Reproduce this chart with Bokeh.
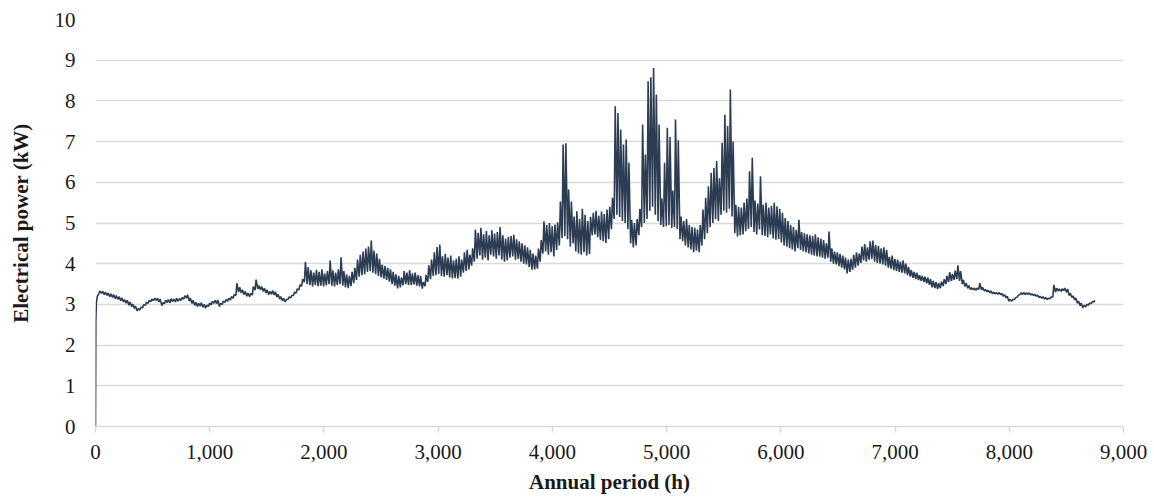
from bokeh.plotting import figure
from bokeh.models import Range1d, NumeralTickFormatter, FixedTicker, ColumnDataSource
from bokeh.embed import file_html
from bokeh.resources import INLINE

# Start-up hours of the year (h) and power (kW)
ramp_h = [0, 3, 8, 16]
ramp_kw = [0.0, 2.6, 3.05, 3.2]

# Daily night-time low and afternoon high of the electrical power (kW), month by month
jan_lo = [3.26, 3.27, 3.24, 3.22, 3.19, 3.17, 3.14, 3.12, 3.09, 3.06, 3.03, 2.98, 2.94, 2.90, 2.84,
          2.86, 2.92, 2.98, 3.03, 3.07, 3.09, 3.10, 3.06, 2.97, 3.02, 3.05, 3.04, 3.07, 3.06, 3.08]
jan_hi = [3.33, 3.32, 3.30, 3.28, 3.26, 3.24, 3.22, 3.19, 3.16, 3.12, 3.10, 3.06, 3.01, 2.96, 2.90,
          2.93, 2.99, 3.05, 3.10, 3.13, 3.15, 3.15, 3.13, 3.04, 3.10, 3.12, 3.14, 3.13, 3.15, 3.14]
feb_lo = [3.10, 3.13, 3.16, 3.08, 3.02, 2.98, 2.95, 2.96, 2.93, 2.91, 2.95, 2.99, 3.03, 3.02,
          2.95, 3.00, 3.05, 3.08, 3.11, 3.15, 3.22, 3.30, 3.28, 3.24, 3.20, 3.19, 3.23, 3.35]
feb_hi = [3.17, 3.21, 3.24, 3.16, 3.10, 3.05, 3.03, 3.04, 3.00, 2.98, 3.03, 3.07, 3.10, 3.11,
          3.02, 3.08, 3.12, 3.15, 3.19, 3.24, 3.52, 3.42, 3.36, 3.32, 3.28, 3.27, 3.44, 3.61]
mar_lo = [3.38, 3.36, 3.32, 3.28, 3.24, 3.25, 3.23, 3.18, 3.13, 3.09, 3.06, 3.12, 3.16, 3.22, 3.28,
          3.36, 3.45, 3.55, 3.50, 3.47, 3.44, 3.48, 3.45, 3.46, 3.44, 3.47, 3.50, 3.46, 3.44, 3.48, 3.50]
mar_hi = [3.46, 3.44, 3.40, 3.36, 3.32, 3.34, 3.31, 3.25, 3.19, 3.15, 3.12, 3.18, 3.22, 3.30, 3.38,
          3.48, 3.62, 4.04, 3.92, 3.84, 3.78, 3.85, 3.80, 3.86, 3.76, 3.82, 4.08, 3.84, 3.78, 3.86, 4.16]
apr_lo = [3.46, 3.42, 3.40, 3.45, 3.52, 3.60, 3.68, 3.72, 3.74, 3.80, 3.82, 3.78, 3.74, 3.70, 3.66,
          3.63, 3.60, 3.56, 3.50, 3.46, 3.39, 3.42, 3.47, 3.50, 3.48, 3.47, 3.49, 3.46, 3.44, 3.39]
apr_hi = [3.82, 3.74, 3.70, 3.80, 3.90, 4.10, 4.22, 4.30, 4.37, 4.42, 4.57, 4.32, 4.25, 4.12, 3.98,
          3.94, 3.90, 3.86, 3.80, 3.74, 3.70, 3.66, 3.82, 3.78, 3.84, 3.76, 3.78, 3.72, 3.70, 3.55]
may_lo = [3.45, 3.55, 3.62, 3.70, 3.72, 3.75, 3.70, 3.68, 3.72, 3.66, 3.64, 3.65, 3.64, 3.68, 3.78,
          3.82, 3.86, 3.95, 4.05, 4.12, 4.20, 4.10, 4.15, 4.08, 4.22, 4.18, 4.12, 4.20, 4.10, 4.05, 4.08]
may_hi = [3.72, 3.96, 4.10, 4.28, 4.41, 4.47, 4.18, 4.24, 4.15, 4.20, 4.08, 4.12, 4.18, 4.10, 4.28,
          4.34, 4.22, 4.38, 4.84, 4.76, 4.88, 4.72, 4.80, 4.70, 4.82, 4.74, 4.78, 4.90, 4.70, 4.62, 4.66]
jun_lo = [4.15, 4.18, 4.10, 4.12, 4.05, 4.00, 3.98, 3.92, 3.85, 3.86, 3.88, 4.05, 4.25, 4.30, 4.22,
          4.28, 4.18, 4.34, 4.45, 4.63, 4.68, 4.60, 4.42, 4.50, 4.30, 4.25, 4.22, 4.28, 4.20, 4.24]
jun_hi = [4.68, 4.71, 4.60, 4.55, 4.50, 4.45, 4.40, 4.34, 4.25, 4.20, 4.37, 4.58, 5.04, 4.95, 5.00,
          4.92, 4.96, 5.02, 5.53, 6.93, 6.96, 5.82, 5.53, 5.16, 5.29, 5.10, 5.35, 5.20, 5.05, 5.15]
jul_lo = [4.70, 4.72, 4.65, 4.58, 4.55, 4.51, 4.60, 4.85, 5.10, 5.20, 5.15, 5.05, 5.00, 4.85, 4.50,
          4.40, 4.45, 4.70, 4.90, 5.00, 5.10, 5.30, 5.40, 5.20, 5.05, 4.95, 4.90, 4.92, 4.95, 4.88, 4.90]
jul_hi = [5.25, 5.30, 5.18, 5.28, 5.22, 5.33, 5.40, 5.62, 7.87, 7.70, 7.30, 6.93, 7.05, 6.48, 5.08,
          5.00, 5.10, 5.35, 7.42, 6.68, 8.48, 8.58, 8.81, 8.16, 7.42, 5.60, 6.48, 7.34, 7.11, 5.80, 7.54]
aug_lo = [4.85, 4.60, 4.55, 4.45, 4.40, 4.35, 4.28, 4.32, 4.28, 4.45, 4.60, 4.75, 4.90, 5.00, 5.10,
          5.05, 5.20, 5.30, 5.25, 5.35, 5.16, 4.75, 4.67, 4.70, 4.72, 4.80, 4.85, 4.90, 4.78, 4.72, 4.84]
aug_hi = [7.03, 5.16, 5.05, 5.10, 4.95, 4.90, 4.88, 4.84, 4.95, 5.33, 5.62, 5.90, 6.23, 6.35, 6.52,
          6.10, 6.97, 7.66, 7.38, 8.28, 7.00, 5.45, 5.40, 5.38, 5.50, 5.60, 6.27, 6.60, 5.55, 5.48, 6.15]
sep_lo = [4.70, 4.68, 4.65, 4.72, 4.62, 4.59, 4.60, 4.52, 4.45, 4.42, 4.38, 4.35, 4.30, 4.38, 4.34,
          4.30, 4.28, 4.25, 4.22, 4.20, 4.18, 4.17, 4.15, 4.12, 4.15, 4.05, 4.00, 3.98, 3.94, 3.90]
sep_hi = [5.45, 5.50, 5.38, 5.42, 5.50, 5.41, 5.35, 5.25, 5.12, 5.05, 4.95, 4.90, 4.83, 5.08, 4.78,
          4.75, 4.72, 4.70, 4.68, 4.72, 4.65, 4.62, 4.58, 4.50, 4.79, 4.38, 4.30, 4.28, 4.24, 4.20]
oct_lo = [3.86, 3.76, 3.80, 3.85, 3.90, 3.95, 4.02, 4.08, 4.05, 4.10, 4.12, 4.05, 4.02, 4.00, 3.98,
          3.95, 3.90, 3.88, 3.84, 3.82, 3.80, 3.78, 3.76, 3.72, 3.68, 3.65, 3.62, 3.60, 3.58, 3.55, 3.52]
oct_hi = [4.15, 4.10, 4.12, 4.22, 4.28, 4.25, 4.42, 4.48, 4.40, 4.55, 4.57, 4.46, 4.44, 4.38, 4.40,
          4.34, 4.17, 4.20, 4.12, 4.10, 4.05, 4.08, 4.00, 3.92, 3.84, 3.80, 3.78, 3.72, 3.70, 3.68, 3.66]
nov_lo = [3.48, 3.42, 3.40, 3.38, 3.40, 3.45, 3.50, 3.55, 3.58, 3.60, 3.62, 3.58, 3.50, 3.44, 3.40,
          3.36, 3.36, 3.35, 3.37, 3.36, 3.33, 3.31, 3.29, 3.26, 3.26, 3.25, 3.24, 3.20, 3.16, 3.08]
nov_hi = [3.62, 3.58, 3.55, 3.52, 3.56, 3.62, 3.70, 3.79, 3.75, 3.83, 3.96, 3.82, 3.60, 3.52, 3.46,
          3.41, 3.40, 3.40, 3.52, 3.42, 3.37, 3.35, 3.33, 3.30, 3.29, 3.29, 3.27, 3.24, 3.20, 3.12]
dec_lo = [3.08, 3.12, 3.18, 3.24, 3.25, 3.24, 3.25, 3.23, 3.22, 3.20, 3.17, 3.15, 3.13, 3.12, 3.14,
          3.18, 3.30, 3.33, 3.32, 3.34, 3.30, 3.22, 3.17, 3.11, 3.03, 2.97, 2.92, 2.94, 2.98, 3.02, 3.06]
dec_hi = [3.12, 3.16, 3.22, 3.28, 3.29, 3.28, 3.28, 3.26, 3.25, 3.23, 3.20, 3.19, 3.17, 3.15, 3.18,
          3.48, 3.40, 3.38, 3.38, 3.40, 3.38, 3.27, 3.21, 3.16, 3.08, 3.03, 2.98, 3.00, 3.03, 3.07, 3.10]

x_ticks = [0, 1000, 2000, 3000, 4000, 5000, 6000, 7000, 8000, 9000]
y_ticks = [0, 1, 2, 3, 4, 5, 6, 7, 8, 9, 10]

lows = [jan_lo, feb_lo, mar_lo, apr_lo, may_lo, jun_lo, jul_lo, aug_lo, sep_lo, oct_lo, nov_lo, dec_lo]
highs = [jan_hi, feb_hi, mar_hi, apr_hi, may_hi, jun_hi, jul_hi, aug_hi, sep_hi, oct_hi, nov_hi, dec_hi]

# Hourly positions: night low around 05:00, afternoon high around 14:00
hours = list(ramp_h)
power = list(ramp_kw)
day = 1
for lo_list, hi_list in zip(lows, highs):
    for lo, hi in zip(lo_list, hi_list):
        hours += [24 * day + 5, 24 * day + 14]
        power += [lo, hi]
        day += 1

source = ColumnDataSource(data=dict(h=hours, kw=power))

SERIF = "Liberation Serif"
GRID = "#d9d9d9"

p = figure(
    width=1154, height=499,
    x_range=Range1d(0, 9000), y_range=Range1d(0, 10),
    output_backend="svg", toolbar_location=None,
    min_border_left=95, min_border_right=31, min_border_top=19, min_border_bottom=73,
)
p.outline_line_color = None
p.background_fill_color = "white"
p.border_fill_color = "white"

p.line("h", "kw", source=source, line_color="#2c3d53", line_width=1.6)

p.xgrid.visible = False
p.ygrid.grid_line_color = GRID
p.ygrid.grid_line_width = 1.5

p.xaxis.ticker = FixedTicker(ticks=x_ticks)
p.xaxis.formatter = NumeralTickFormatter(format="0,0")
p.xaxis.axis_line_color = GRID
p.xaxis.axis_line_width = 1.5
p.xaxis.major_tick_line_color = GRID
p.xaxis.major_tick_line_width = 1.5
p.xaxis.major_tick_in = 0
p.xaxis.major_tick_out = 6
p.xaxis.minor_tick_line_color = None
p.xaxis.major_label_standoff = 12
p.xaxis.axis_label = "Annual period (h)"
p.xaxis.axis_label_standoff = 8

p.yaxis.ticker = FixedTicker(ticks=y_ticks)
p.yaxis.axis_line_color = None
p.yaxis.major_tick_line_color = None
p.yaxis.minor_tick_line_color = None
p.yaxis.major_tick_in = 0
p.yaxis.major_tick_out = 0
p.yaxis.major_label_standoff = 20
p.yaxis.axis_label = "Electrical power (kW)"
p.yaxis.axis_label_standoff = 19

for ax in (p.xaxis, p.yaxis):
    ax.major_label_text_font = SERIF
    ax.major_label_text_font_size = "21px"
    ax.major_label_text_color = "#1a1a1a"
    ax.axis_label_text_font = SERIF
    ax.axis_label_text_font_size = "21px"
    ax.axis_label_text_font_style = "bold"
    ax.axis_label_text_color = "#1a1a1a"

open("out.html", "w").write(file_html(p, INLINE))
